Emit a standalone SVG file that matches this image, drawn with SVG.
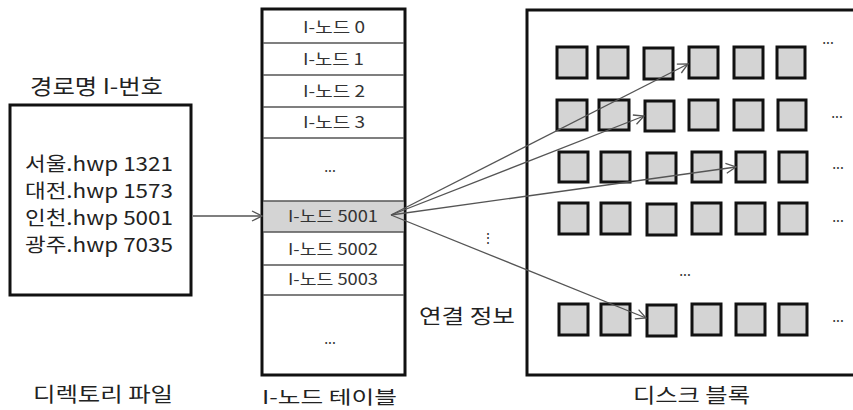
<svg xmlns="http://www.w3.org/2000/svg" width="853" height="410" viewBox="0 0 853 410">
<defs>
<style>
text{font-family:"Noto Sans CJK KR","Noto Sans",sans-serif;fill:#222}
.box{fill:#fff;stroke:#111;stroke-width:3}
.row{fill:none;stroke:#555;stroke-width:1.3}
.cell{font-size:16px;fill:#333}
.lbl{font-size:20px}
.blk{fill:#d4d4d4;stroke:#111;stroke-width:3}
.dots{font-size:14px;fill:#333}
.conn{fill:none;stroke:#555;stroke-width:1.3;marker-end:url(#ah)}
</style>
<marker id="ah" viewBox="0 0 12 12" refX="11" refY="6" markerWidth="12" markerHeight="12" markerUnits="userSpaceOnUse" orient="auto">
<path d="M1,1 L11,6 L1,11" fill="none" stroke="#555" stroke-width="1.3"/>
</marker>
</defs>
<rect width="853" height="410" fill="#fff"/>

<g id="directory">
<text x="30" y="94" font-size="21" textLength="133" lengthAdjust="spacingAndGlyphs">경로명 I-번호</text>
<rect x="10" y="105" width="181" height="190" class="box"/>
<text x="25" y="171" font-size="19.5" textLength="148" lengthAdjust="spacingAndGlyphs">서울.hwp 1321</text>
<text x="25" y="198" font-size="19.5" textLength="148" lengthAdjust="spacingAndGlyphs">대전.hwp 1573</text>
<text x="25" y="225" font-size="19.5" textLength="148" lengthAdjust="spacingAndGlyphs">인천.hwp 5001</text>
<text x="25" y="252" font-size="19.5" textLength="148" lengthAdjust="spacingAndGlyphs">광주.hwp 7035</text>
<text x="33" y="402" class="lbl" textLength="140" lengthAdjust="spacingAndGlyphs">디렉토리 파일</text>
</g>

<g id="inode-table">
<rect x="262" y="9" width="143" height="366" class="box"/>
<rect x="263.5" y="201" width="140" height="31" fill="#d4d4d4"/>
<path class="row" d="M263,43H404M263,75H404M263,107H404M263,138H404M263,201H404M263,232H404M263,265H404M263,295H404"/>
<text x="303" y="33" class="cell" textLength="62" lengthAdjust="spacingAndGlyphs">I-노드 0</text>
<text x="303" y="65" class="cell" textLength="61" lengthAdjust="spacingAndGlyphs">I-노드 1</text>
<text x="303" y="97" class="cell" textLength="62" lengthAdjust="spacingAndGlyphs">I-노드 2</text>
<text x="303" y="128" class="cell" textLength="62" lengthAdjust="spacingAndGlyphs">I-노드 3</text>
<text x="330" y="172" class="dots" text-anchor="middle">...</text>
<text x="288" y="222" class="cell" textLength="90" lengthAdjust="spacingAndGlyphs">I-노드 5001</text>
<text x="288" y="255" class="cell" textLength="90" lengthAdjust="spacingAndGlyphs">I-노드 5002</text>
<text x="288" y="285" class="cell" textLength="90" lengthAdjust="spacingAndGlyphs">I-노드 5003</text>
<text x="330" y="344" class="dots" text-anchor="middle">...</text>
<text x="262" y="404" font-size="18.5" textLength="135" lengthAdjust="spacingAndGlyphs">I-노드 테이블</text>
</g>

<g id="link-info">
<text x="488" y="243" class="dots" text-anchor="middle" font-size="15">⋮</text>
<text x="419" y="324" font-size="20" textLength="96" lengthAdjust="spacingAndGlyphs">연결 정보</text>
</g>

<g id="disk-blocks">
<path d="M860,10H527V375H860" fill="#fff" stroke="#111" stroke-width="3"/>
<g>
<rect class="blk" x="557" y="47" width="30" height="31"/>
<rect class="blk" x="598" y="47" width="30" height="31"/>
<rect class="blk" x="644" y="48" width="29" height="31"/>
<rect class="blk" x="689" y="47" width="29" height="31"/>
<rect class="blk" x="734" y="47" width="29" height="31"/>
<rect class="blk" x="777" y="47" width="28" height="31"/>
</g>
<g>
<rect class="blk" x="557" y="100" width="30" height="30"/>
<rect class="blk" x="599" y="100" width="30" height="30"/>
<rect class="blk" x="645" y="101" width="29" height="30"/>
<rect class="blk" x="689" y="100" width="29" height="30"/>
<rect class="blk" x="734" y="100" width="29" height="30"/>
<rect class="blk" x="778" y="100" width="28" height="30"/>
</g>
<g>
<rect class="blk" x="559" y="152" width="29" height="30"/>
<rect class="blk" x="601" y="152" width="29" height="30"/>
<rect class="blk" x="647" y="153" width="29" height="30"/>
<rect class="blk" x="692" y="152" width="29" height="30"/>
<rect class="blk" x="736" y="152" width="29" height="30"/>
<rect class="blk" x="779" y="152" width="28" height="30"/>
</g>
<g>
<rect class="blk" x="559" y="203" width="29" height="31"/>
<rect class="blk" x="601" y="203" width="29" height="31"/>
<rect class="blk" x="647" y="204" width="29" height="31"/>
<rect class="blk" x="692" y="203" width="29" height="31"/>
<rect class="blk" x="736" y="203" width="29" height="31"/>
<rect class="blk" x="779" y="203" width="28" height="31"/>
</g>
<g>
<rect class="blk" x="559" y="304" width="29" height="31"/>
<rect class="blk" x="601" y="304" width="29" height="31"/>
<rect class="blk" x="647" y="305" width="29" height="31"/>
<rect class="blk" x="692" y="304" width="29" height="31"/>
<rect class="blk" x="736" y="304" width="29" height="31"/>
<rect class="blk" x="779" y="304" width="28" height="31"/>
</g>
<text x="828" y="44" class="dots" text-anchor="middle">...</text>
<text x="837" y="118" class="dots" text-anchor="middle">...</text>
<text x="838" y="169" class="dots" text-anchor="middle">...</text>
<text x="838" y="222" class="dots" text-anchor="middle">...</text>
<text x="685" y="276" class="dots" text-anchor="middle">...</text>
<text x="838" y="322" class="dots" text-anchor="middle">...</text>
<text x="633" y="403" class="lbl" textLength="117" lengthAdjust="spacingAndGlyphs">디스크 블록</text>
</g>

<g id="connectors">
<path class="conn" d="M193,216H262"/>
<path class="conn" d="M391,215L688,64"/>
<path class="conn" d="M391,215L644,116"/>
<path class="conn" d="M391,215L736,167"/>
<path class="conn" d="M391,215L646,318"/>
</g>
</svg>
